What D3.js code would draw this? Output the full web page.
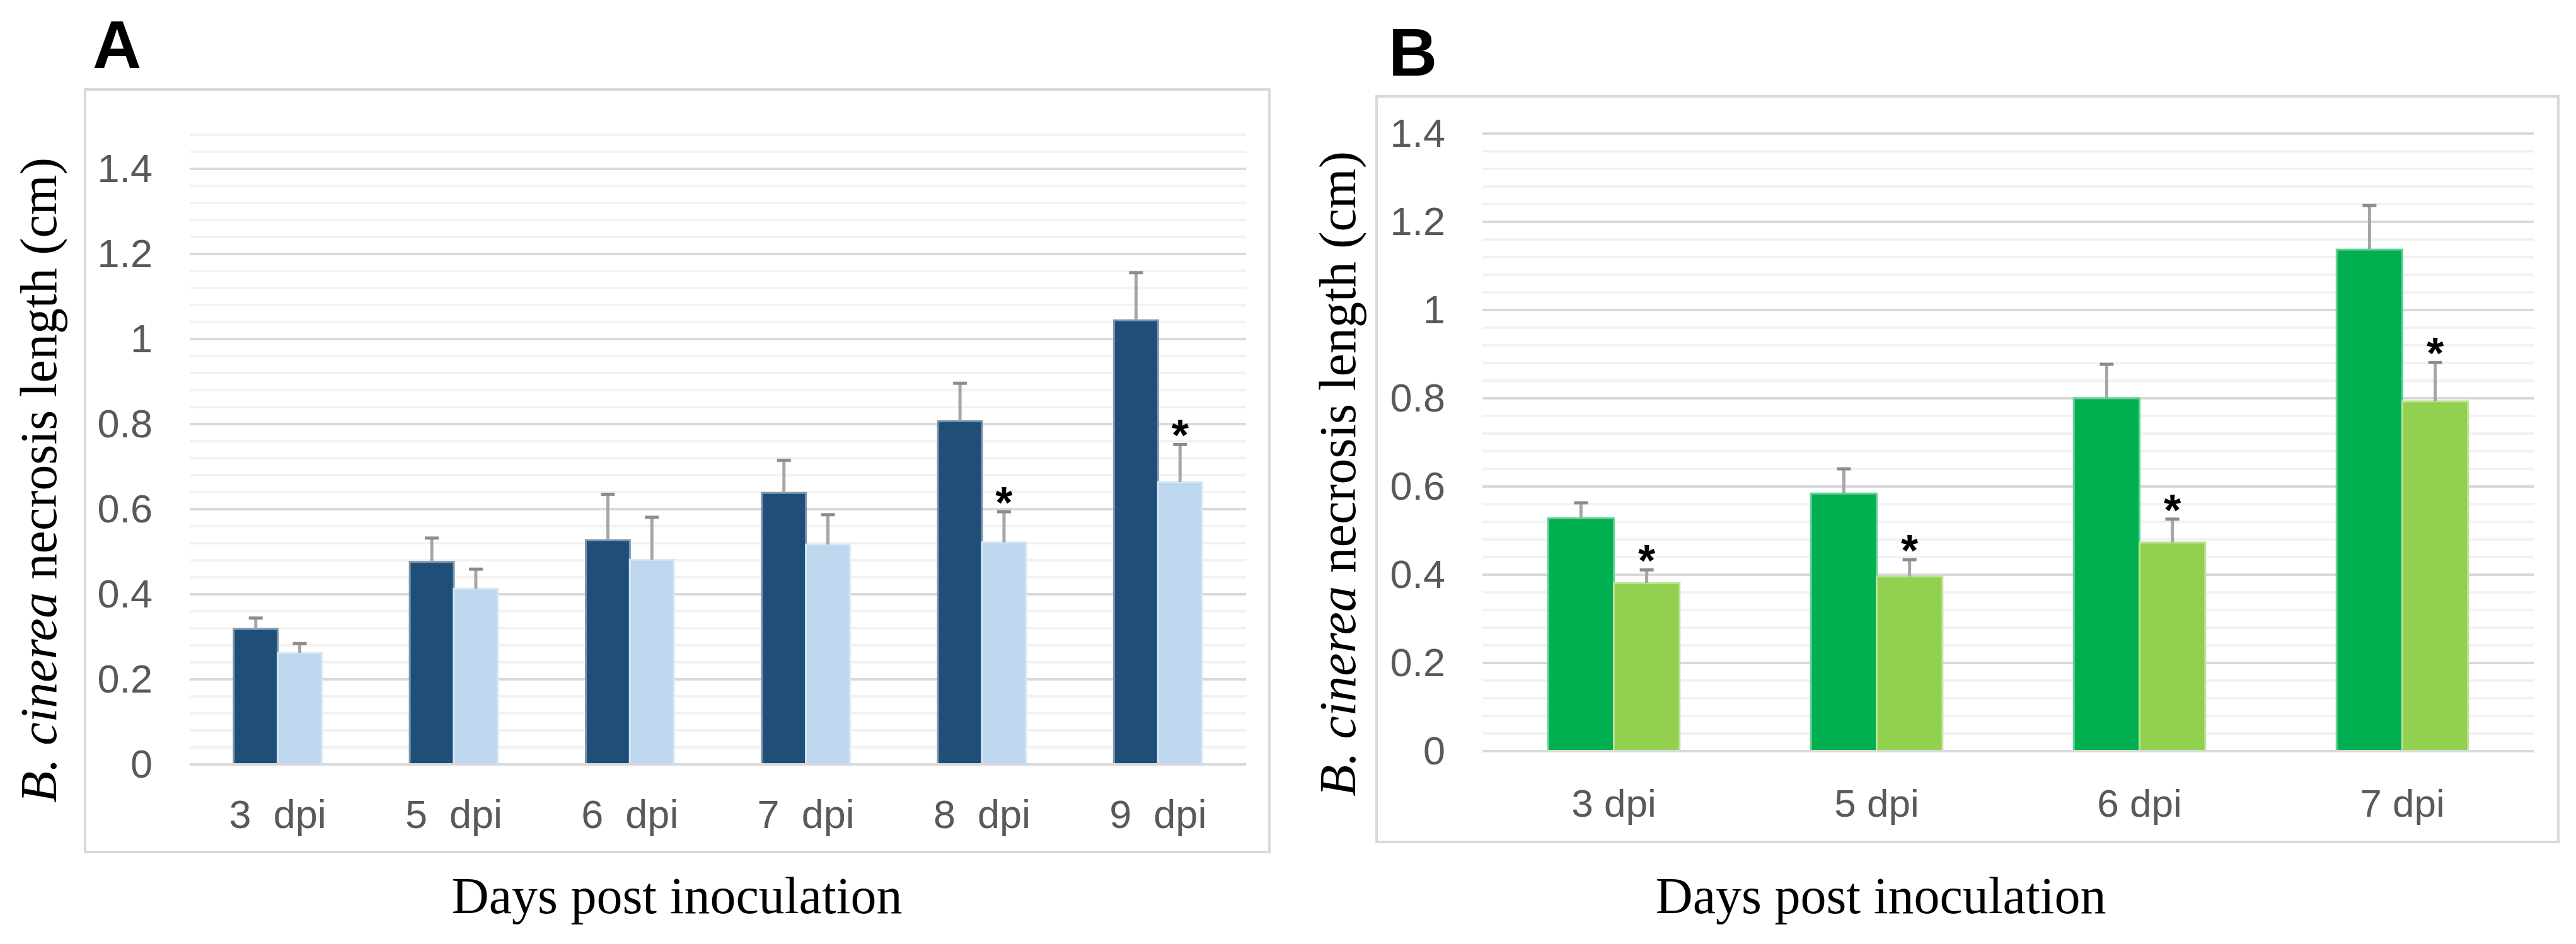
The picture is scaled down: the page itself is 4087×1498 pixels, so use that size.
<!doctype html>
<html lang="en">
  <head>
    <meta charset="utf-8">
    <title>B. cinerea necrosis length</title>
    <script src="https://d3js.org/d3.v7.min.js"></script>
    <style>
      html, body { margin: 0; padding: 0; background: #ffffff; }
      svg { display: block; }
      .tick text { white-space: pre; }
    </style>
  </head>
  <body>
    <div id="container"></div>
    <script>
      // Panel A data (blue)
      const daysA = ["3  dpi", "5  dpi", "6  dpi", "7  dpi", "8  dpi", "9  dpi"]
      const controlA = [0.318, 0.476, 0.527, 0.638, 0.807, 1.044]
      const controlErrA = [0.026, 0.056, 0.108, 0.077, 0.089, 0.112]
      const treatedA = [0.262, 0.413, 0.481, 0.517, 0.522, 0.664]
      const treatedErrA = [0.022, 0.046, 0.100, 0.070, 0.072, 0.088]
      const starsA = [false, false, false, false, true, true]

      // Panel B data (green)
      const daysB = ["3 dpi", "5 dpi", "6 dpi", "7 dpi"]
      const controlB = [0.528, 0.584, 0.800, 1.137]
      const controlErrB = [0.035, 0.056, 0.077, 0.100]
      const treatedB = [0.381, 0.396, 0.473, 0.793]
      const treatedErrB = [0.030, 0.038, 0.053, 0.088]
      const starsB = [true, true, true, true]

      const yTicks = [0, 0.2, 0.4, 0.6, 0.8, 1.0, 1.2, 1.4]

      const width = 4087
      const height = 1498

      const svg = d3.select("#container")
        .append("svg")
          .attr("width", width)
          .attr("height", height)

      function drawPanel(p) {
        const g = svg.append("g")

        // outer chart frame
        g.append("rect")
          .attr("x", p.frame[0]).attr("y", p.frame[1])
          .attr("width", p.frame[2]).attr("height", p.frame[3])
          .attr("fill", "#ffffff")
          .attr("stroke", "#d9d9d9")
          .attr("stroke-width", 4)

        const y = d3.scaleLinear().domain([0, p.yMax]).range([p.bottom, p.top])
        const x0 = d3.scaleBand().domain(p.days).range([p.left, p.right])
          .paddingInner(0.5).paddingOuter(0.25)
        const x1 = d3.scaleBand().domain(["control", "treated"]).range([0, x0.bandwidth()])

        // minor then major gridlines
        const minor = d3.range(0.04, p.yMax + 1e-9, 0.04)
          .filter(v => Math.abs(v / 0.2 - Math.round(v / 0.2)) > 1e-6)
        g.selectAll(".minor").data(minor).join("line")
          .attr("x1", p.left).attr("x2", p.right)
          .attr("y1", d => y(d)).attr("y2", d => y(d))
          .attr("stroke", "#f2f2f2").attr("stroke-width", 4)
        g.selectAll(".major").data(yTicks).join("line")
          .attr("x1", p.left).attr("x2", p.right)
          .attr("y1", d => y(d)).attr("y2", d => y(d))
          .attr("stroke", "#d9d9d9").attr("stroke-width", 4)

        // y axis labels
        const yAxis = g.append("g")
          .attr("transform", `translate(${p.left},0)`)
          .call(d3.axisLeft(y).tickValues(yTicks).tickFormat(d3.format("~g")).tickSize(0).tickPadding(59))
        yAxis.select(".domain").remove()
        yAxis.selectAll("text")
          .attr("font-family", "'Liberation Sans', Arial, sans-serif")
          .attr("font-size", 63)
          .attr("fill", "#595959")

        // x axis labels
        const xAxis = g.append("g")
          .attr("transform", `translate(0,${p.bottom})`)
          .call(d3.axisBottom(x0).tickSize(0).tickPadding(p.xPad))
        xAxis.select(".domain").remove()
        xAxis.selectAll("text")
          .attr("font-family", "'Liberation Sans', Arial, sans-serif")
          .attr("font-size", p.xFont)
          .attr("fill", "#595959")

        const rows = p.days.map((d, i) => ({
          day: d,
          bars: [
            {key: "control", value: p.control[i], err: p.controlErr[i], color: p.colors[0], star: false},
            {key: "treated", value: p.treated[i], err: p.treatedErr[i], color: p.colors[1], star: p.stars[i]}
          ]
        }))

        const groups = g.selectAll(".grp").data(rows).join("g")
          .attr("transform", d => `translate(${x0(d.day)},0)`)

        groups.selectAll("rect").data(d => d.bars).join("rect")
          .attr("x", d => x1(d.key))
          .attr("y", d => y(d.value))
          .attr("width", x1.bandwidth())
          .attr("height", d => y(0) - y(d.value))
          .attr("fill", d => d.color)
          .attr("stroke", d => d3.interpolateRgb(d.color, "#ffffff")(0.4))
          .attr("stroke-width", 3)

        // baseline axis line
        g.append("line")
          .attr("x1", p.left).attr("x2", p.right)
          .attr("y1", y(0)).attr("y2", y(0))
          .attr("stroke", "#d9d9d9").attr("stroke-width", 4)

        // error bars (upper only)
        const eb = groups.selectAll(".err").data(d => d.bars).join("g")
        eb.append("line")
          .attr("x1", d => x1(d.key) + x1.bandwidth() / 2)
          .attr("x2", d => x1(d.key) + x1.bandwidth() / 2)
          .attr("y1", d => y(d.value))
          .attr("y2", d => y(d.value + d.err))
          .attr("stroke", "#a6a6a6").attr("stroke-width", 5)
        eb.append("line")
          .attr("x1", d => x1(d.key) + x1.bandwidth() / 2 - 11)
          .attr("x2", d => x1(d.key) + x1.bandwidth() / 2 + 11)
          .attr("y1", d => y(d.value + d.err))
          .attr("y2", d => y(d.value + d.err))
          .attr("stroke", "#8c8c8c").attr("stroke-width", 5)

        // significance stars
        groups.selectAll(".star").data(d => d.bars.filter(b => b.star)).join("text")
          .attr("x", d => x1(d.key) + x1.bandwidth() / 2)
          .attr("y", d => y(d.value + d.err) + 10)
          .attr("text-anchor", "middle")
          .attr("font-family", "'Liberation Sans', Arial, sans-serif")
          .attr("font-weight", "bold")
          .attr("font-size", 70)
          .attr("fill", "#000000")
          .text("*")

        // y axis title
        const yt = g.append("text")
          .attr("transform", `translate(${p.yTitle[0]},${p.yTitle[1]}) rotate(-90)`)
          .attr("text-anchor", "middle")
          .attr("font-family", "'Liberation Serif', 'Times New Roman', serif")
          .attr("font-size", 82)
          .attr("fill", "#000000")
        yt.append("tspan").attr("font-style", "italic").text("B. cinerea")
        yt.append("tspan").text(" necrosis length (cm)")

        // x axis title
        g.append("text")
          .attr("x", p.xTitle[0]).attr("y", p.xTitle[1])
          .attr("text-anchor", "middle")
          .attr("font-family", "'Liberation Serif', 'Times New Roman', serif")
          .attr("font-size", 82)
          .attr("fill", "#000000")
          .text("Days post inoculation")

        // panel letter
        g.append("text")
          .attr("x", p.letterPos[0]).attr("y", p.letterPos[1])
          .attr("font-family", "'Liberation Sans', Arial, sans-serif")
          .attr("font-weight", "bold")
          .attr("font-size", 107)
          .attr("fill", "#000000")
          .text(p.letter)
      }

      drawPanel({
        letter: "A", letterPos: [147, 108],
        frame: [135, 142, 1879, 1210],
        left: 301, right: 1977, top: 200.5, bottom: 1213, yMax: 1.5,
        days: daysA, control: controlA, controlErr: controlErrA,
        treated: treatedA, treatedErr: treatedErrA, stars: starsA,
        colors: ["#1f4e79", "#bdd7ee"],
        xPad: 56, xFont: 63,
        yTitle: [89, 762], xTitle: [1074, 1449]
      })

      drawPanel({
        letter: "B", letterPos: [2203, 120],
        frame: [2184, 153, 1875, 1183],
        left: 2352, right: 4020, top: 212, bottom: 1192, yMax: 1.4,
        days: daysB, control: controlB, controlErr: controlErrB,
        treated: treatedB, treatedErr: treatedErrB, stars: starsB,
        colors: ["#00b050", "#92d050"],
        xPad: 60, xFont: 62,
        yTitle: [2150, 752], xTitle: [2984, 1449]
      })
    </script>
  </body>
</html>
